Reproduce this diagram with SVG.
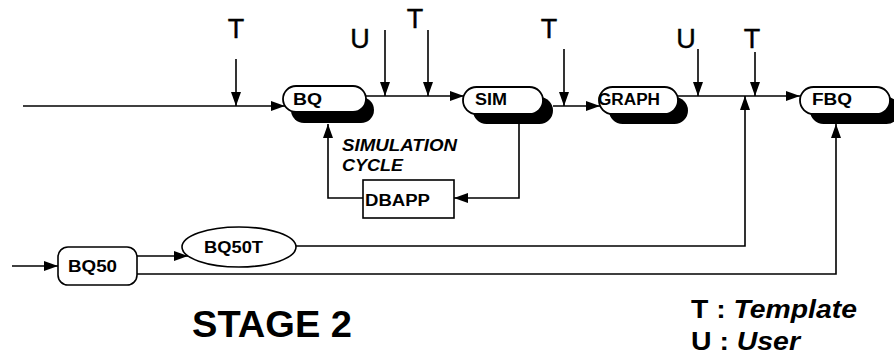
<svg xmlns="http://www.w3.org/2000/svg" width="894" height="355" viewBox="0 0 894 355">
<defs>
<marker id="ah" markerWidth="14" markerHeight="10" refX="14" refY="5" orient="auto" markerUnits="userSpaceOnUse">
<path d="M0,0 L14,5 L0,10 Z" fill="#000"/>
</marker>
</defs>
<style>
.ln{fill:none;stroke:#000;stroke-width:1.6}
.pill{fill:#fff;stroke:#000;stroke-width:1.8}
.shd{fill:#000}
.nt{font-family:"Liberation Sans",Arial,sans-serif;font-weight:bold;font-size:16px;fill:#000}
.lb{font-family:"Liberation Sans",Arial,sans-serif;font-size:27px;fill:#000;text-anchor:middle;stroke:#000;stroke-width:0.4}
.it{font-family:"Liberation Sans",Arial,sans-serif;font-weight:bold;font-style:italic;font-size:17px;fill:#000}
</style>
<rect width="894" height="355" fill="#fff"/>
<g id="connectors">
<path class="ln" d="M23,106 H285" marker-end="url(#ah)"/>
<path class="ln" d="M366,96 H464" marker-end="url(#ah)"/>
<path class="ln" d="M553,106 H600" marker-end="url(#ah)"/>
<path class="ln" d="M678,96 H800" marker-end="url(#ah)"/>
<path class="ln" d="M236,59 V106" marker-end="url(#ah)"/>
<path class="ln" d="M385,30 V96" marker-end="url(#ah)"/>
<path class="ln" d="M428,30 V96" marker-end="url(#ah)"/>
<path class="ln" d="M564,49 V106" marker-end="url(#ah)"/>
<path class="ln" d="M698,49 V96" marker-end="url(#ah)"/>
<path class="ln" d="M755,52 V96" marker-end="url(#ah)"/>
<path class="ln" d="M519,124 V198 H454" marker-end="url(#ah)"/>
<path class="ln" d="M363,198 H328 V124" marker-end="url(#ah)"/>
<path class="ln" d="M12,266 H58" marker-end="url(#ah)"/>
<path class="ln" d="M137,256 H188" marker-end="url(#ah)"/>
<path class="ln" d="M296,246 H745 V96" marker-end="url(#ah)"/>
<path class="ln" d="M137,274 H836 V124" marker-end="url(#ah)"/>
</g>
<g id="labels">
<text class="lb" x="236" y="38">T</text>
<text class="lb" x="360" y="48">U</text>
<text class="lb" x="415" y="28">T</text>
<text class="lb" x="549" y="38">T</text>
<text class="lb" x="686" y="48">U</text>
<text class="lb" x="752" y="48">T</text>
<text class="it" x="342" y="151" textLength="115" lengthAdjust="spacingAndGlyphs">SIMULATION</text>
<text class="it" x="342" y="171" textLength="61" lengthAdjust="spacingAndGlyphs">CYCLE</text>
</g>
<g id="BQ">
<rect class="shd" x="291" y="97" width="83" height="26" rx="13"/>
<rect class="pill" x="283" y="86" width="83" height="26" rx="13"/>
<text class="nt" x="293" y="105" textLength="29" lengthAdjust="spacingAndGlyphs">BQ</text>
</g>
<g id="SIM">
<rect class="shd" x="473" y="97" width="80" height="27" rx="13.5"/>
<rect class="pill" x="463" y="87" width="80" height="27" rx="13.5"/>
<text class="nt" x="475" y="105" textLength="32" lengthAdjust="spacingAndGlyphs">SIM</text>
</g>
<g id="GRAPH">
<rect class="shd" x="609" y="97" width="79" height="27" rx="13.5"/>
<rect class="pill" x="599" y="87" width="79" height="27" rx="13.5"/>
<text class="nt" x="598" y="105" textLength="62" lengthAdjust="spacingAndGlyphs">GRAPH</text>
</g>
<g id="FBQ">
<rect class="shd" x="810" y="97" width="90" height="27" rx="13.5"/>
<rect class="pill" x="800" y="87" width="90" height="27" rx="13.5"/>
<text class="nt" x="812" y="105" textLength="40" lengthAdjust="spacingAndGlyphs">FBQ</text>
</g>
<g id="DBAPP">
<rect x="363" y="180" width="91" height="38" fill="#fff" stroke="#000" stroke-width="1.6"/>
<text class="nt" x="365" y="206" font-size="17" textLength="65" lengthAdjust="spacingAndGlyphs">DBAPP</text>
</g>
<g id="BQ50">
<rect x="58" y="247" width="79" height="38" rx="10" fill="#fff" stroke="#000" stroke-width="1.6"/>
<text class="nt" x="68" y="272" textLength="49" lengthAdjust="spacingAndGlyphs">BQ50</text>
</g>
<g id="BQ50T">
<ellipse cx="239" cy="247" rx="57" ry="20" fill="#fff" stroke="#000" stroke-width="1.6"/>
<text class="nt" x="204" y="253" textLength="59" lengthAdjust="spacingAndGlyphs">BQ50T</text>
</g>
<g id="title">
<text x="192" y="337" font-family="Liberation Sans, Arial, sans-serif" font-weight="bold" font-size="37" textLength="160" lengthAdjust="spacingAndGlyphs">STAGE 2</text>
</g>
<g id="legend" font-family="Liberation Sans, Arial, sans-serif" font-size="25" font-weight="bold">
<text x="691" y="318" textLength="166" lengthAdjust="spacingAndGlyphs">T : <tspan font-style="italic">Template</tspan></text>
<text x="691" y="350" textLength="109" lengthAdjust="spacingAndGlyphs">U : <tspan font-style="italic">User</tspan></text>
</g>
</svg>
